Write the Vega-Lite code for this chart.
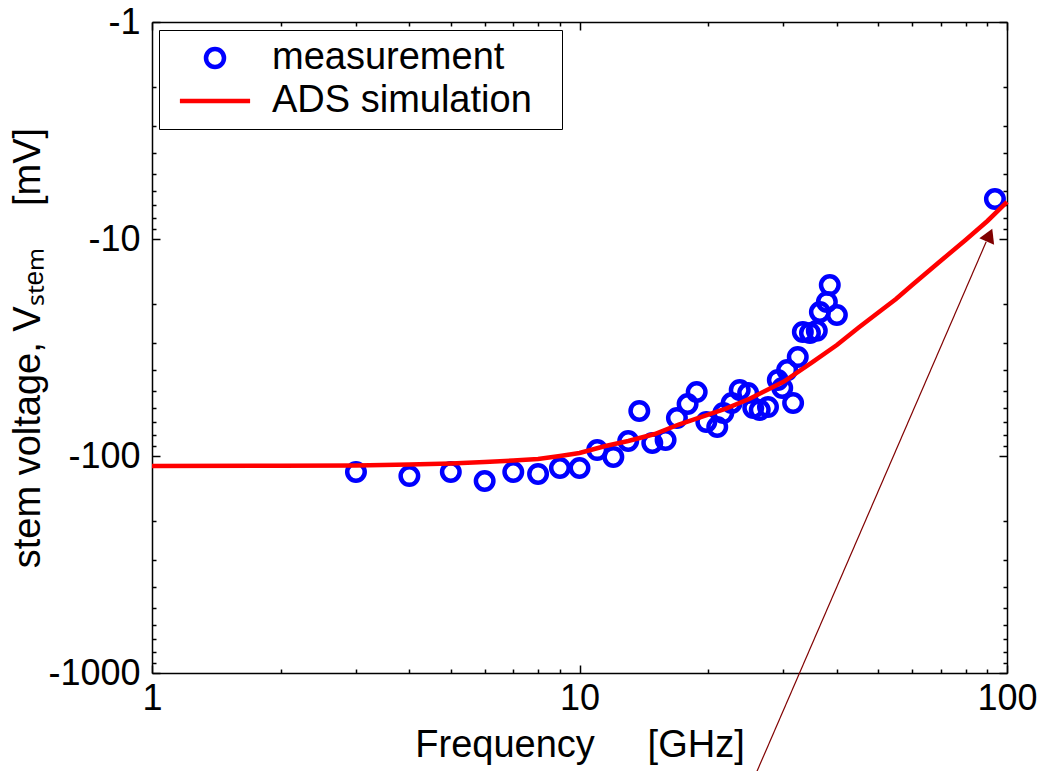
{
  "$schema": "https://vega.github.io/schema/vega-lite/v6.json",
  "width": 855,
  "height": 651,
  "autosize": {"type": "none"},
  "padding": {"left": 152, "top": 22, "right": 34, "bottom": 98},
  "background": "white",
  "config": {
    "font": "Liberation Sans",
    "view": {"stroke": null},
    "axis": {
      "domainColor": "black",
      "domainWidth": 1.5,
      "tickColor": "black",
      "tickWidth": 1.5,
      "labelColor": "black",
      "titleColor": "black",
      "labelFontSize": 36,
      "titleFontSize": 38,
      "titleFontWeight": "normal",
      "labelFont": "Liberation Sans",
      "titleFont": "Liberation Sans",
      "grid": false,
      "labelFlush": false,
      "labelOverlap": false
    }
  },
  "datasets": {
    "measurement": [
      {"f_GHz": 3, "V_mV": -118.5, "series": "measurement"},
      {"f_GHz": 4, "V_mV": -123.7, "series": "measurement"},
      {"f_GHz": 5, "V_mV": -118.5, "series": "measurement"},
      {"f_GHz": 6, "V_mV": -130.4, "series": "measurement"},
      {"f_GHz": 7, "V_mV": -118.5, "series": "measurement"},
      {"f_GHz": 8, "V_mV": -121, "series": "measurement"},
      {"f_GHz": 9, "V_mV": -113.6, "series": "measurement"},
      {"f_GHz": 10, "V_mV": -113.6, "series": "measurement"},
      {"f_GHz": 11, "V_mV": -93.9, "series": "measurement"},
      {"f_GHz": 12, "V_mV": -101, "series": "measurement"},
      {"f_GHz": 13, "V_mV": -85.3, "series": "measurement"},
      {"f_GHz": 13.8, "V_mV": -62, "series": "measurement"},
      {"f_GHz": 14.8, "V_mV": -87.1, "series": "measurement"},
      {"f_GHz": 15.9, "V_mV": -84.4, "series": "measurement"},
      {"f_GHz": 16.9, "V_mV": -66.8, "series": "measurement"},
      {"f_GHz": 17.9, "V_mV": -57.6, "series": "measurement"},
      {"f_GHz": 18.8, "V_mV": -50.7, "series": "measurement"},
      {"f_GHz": 19.8, "V_mV": -69.7, "series": "measurement"},
      {"f_GHz": 21.0, "V_mV": -73.5, "series": "measurement"},
      {"f_GHz": 21.7, "V_mV": -63.4, "series": "measurement"},
      {"f_GHz": 22.7, "V_mV": -57, "series": "measurement"},
      {"f_GHz": 23.7, "V_mV": -49.6, "series": "measurement"},
      {"f_GHz": 24.8, "V_mV": -51.3, "series": "measurement"},
      {"f_GHz": 25.5, "V_mV": -60.1, "series": "measurement"},
      {"f_GHz": 26.4, "V_mV": -61.4, "series": "measurement"},
      {"f_GHz": 27.6, "V_mV": -59.5, "series": "measurement"},
      {"f_GHz": 29.1, "V_mV": -44.6, "series": "measurement"},
      {"f_GHz": 29.8, "V_mV": -48.6, "series": "measurement"},
      {"f_GHz": 30.6, "V_mV": -40.2, "series": "measurement"},
      {"f_GHz": 31.6, "V_mV": -57, "series": "measurement"},
      {"f_GHz": 32.4, "V_mV": -35, "series": "measurement"},
      {"f_GHz": 33.3, "V_mV": -26.8, "series": "measurement"},
      {"f_GHz": 34.6, "V_mV": -27.1, "series": "measurement"},
      {"f_GHz": 35.9, "V_mV": -26.5, "series": "measurement"},
      {"f_GHz": 36.5, "V_mV": -21.7, "series": "measurement"},
      {"f_GHz": 37.9, "V_mV": -19.5, "series": "measurement"},
      {"f_GHz": 38.5, "V_mV": -16.3, "series": "measurement"},
      {"f_GHz": 40.0, "V_mV": -22.4, "series": "measurement"},
      {"f_GHz": 93.7, "V_mV": -6.54, "series": "measurement"}
    ],
    "simulation": [
      {"f_GHz": 1, "V_mV": -111.2, "series": "ADS simulation"},
      {"f_GHz": 2, "V_mV": -111.0, "series": "ADS simulation"},
      {"f_GHz": 3, "V_mV": -110.6, "series": "ADS simulation"},
      {"f_GHz": 4, "V_mV": -109.4, "series": "ADS simulation"},
      {"f_GHz": 5, "V_mV": -108.3, "series": "ADS simulation"},
      {"f_GHz": 6, "V_mV": -106.6, "series": "ADS simulation"},
      {"f_GHz": 7, "V_mV": -104.9, "series": "ADS simulation"},
      {"f_GHz": 8, "V_mV": -103.2, "series": "ADS simulation"},
      {"f_GHz": 9, "V_mV": -100.0, "series": "ADS simulation"},
      {"f_GHz": 10, "V_mV": -96.9, "series": "ADS simulation"},
      {"f_GHz": 11.5, "V_mV": -89.9, "series": "ADS simulation"},
      {"f_GHz": 13, "V_mV": -85.3, "series": "ADS simulation"},
      {"f_GHz": 15, "V_mV": -79.2, "series": "ADS simulation"},
      {"f_GHz": 17, "V_mV": -71.8, "series": "ADS simulation"},
      {"f_GHz": 20, "V_mV": -64.5, "series": "ADS simulation"},
      {"f_GHz": 22, "V_mV": -60.5, "series": "ADS simulation"},
      {"f_GHz": 25, "V_mV": -54.5, "series": "ADS simulation"},
      {"f_GHz": 30, "V_mV": -45.5, "series": "ADS simulation"},
      {"f_GHz": 35, "V_mV": -37.0, "series": "ADS simulation"},
      {"f_GHz": 40, "V_mV": -30.8, "series": "ADS simulation"},
      {"f_GHz": 45, "V_mV": -25.6, "series": "ADS simulation"},
      {"f_GHz": 50, "V_mV": -21.8, "series": "ADS simulation"},
      {"f_GHz": 55, "V_mV": -18.9, "series": "ADS simulation"},
      {"f_GHz": 60, "V_mV": -16.3, "series": "ADS simulation"},
      {"f_GHz": 70, "V_mV": -12.6, "series": "ADS simulation"},
      {"f_GHz": 80, "V_mV": -10.1, "series": "ADS simulation"},
      {"f_GHz": 90, "V_mV": -8.26, "series": "ADS simulation"},
      {"f_GHz": 100, "V_mV": -6.75, "series": "ADS simulation"}
    ],
    "arrow": [
      {"f_start": 24.9, "V_start": -3460, "f_end": 89.4, "V_end": -10.3}
    ],
    "arrowhead": [
      {"f_GHz": 91.0, "V_mV": -9.6}
    ]
  },
  "layer": [
    {
      "data": {"name": "measurement"},
      "mark": {"type": "point", "filled": false, "strokeWidth": 4.5, "size": 306, "opacity": 1},
      "encoding": {
        "x": {
          "field": "f_GHz", "type": "quantitative",
          "scale": {"type": "log", "domain": [1, 100], "nice": false},
          "axis": {
            "orient": "bottom",
            "values": [1, 2, 3, 4, 5, 6, 7, 8, 9, 10, 20, 30, 40, 50, 60, 70, 80, 90, 100],
            "labelExpr": "datum.value == 1 || datum.value == 10 || datum.value == 100 ? toString(datum.value) : ''",
            "tickSize": {"condition": {"test": "datum.value == 1 || datum.value == 10 || datum.value == 100", "value": -8}, "value": -4},
            "labelPadding": 16,
            "title": "Frequency\u00a0\u00a0\u00a0\u00a0\u00a0[GHz]",
            "titlePadding": 6
          }
        },
        "y": {
          "field": "V_mV", "type": "quantitative",
          "scale": {"type": "log", "domain": [-1000, -1], "nice": false},
          "axis": {
            "orient": "left",
            "values": [-1, -2, -3, -4, -5, -6, -7, -8, -9, -10, -20, -30, -40, -50, -60, -70, -80, -90, -100, -200, -300, -400, -500, -600, -700, -800, -900, -1000],
            "labelExpr": "datum.value == -1 || datum.value == -10 || datum.value == -100 || datum.value == -1000 ? '-' + toString(-datum.value) : ''",
            "tickSize": {"condition": {"test": "datum.value == -1 || datum.value == -10 || datum.value == -100 || datum.value == -1000", "value": -8}, "value": -4},
            "labelPadding": 20,
            "title": "stem voltage, Vₛₜₑₘ\u00a0\u00a0\u00a0\u00a0[mV]",
            "titlePadding": 0
          }
        },
        "color": {
          "field": "series", "type": "nominal",
          "scale": {"domain": ["measurement", "ADS simulation"], "range": ["#0000ff", "#ff0000"]},
          "legend": {
            "title": "x", "titleOrient": "right", "titleColor": "white", "titleFontSize": 8, "titlePadding": 16,
            "orient": "none", "legendX": 7, "legendY": 8,
            "padding": 9, "rowPadding": 5, "symbolOffset": 28, "labelOffset": 38,
            "labelFontSize": 38, "labelFont": "Liberation Sans", "labelColor": "black", "labelLimit": 0,
            "strokeColor": "black", "fillColor": "white", "symbolSize": 324, "symbolStrokeWidth": 4.5
          }
        },
        "shape": {
          "field": "series", "type": "nominal",
          "scale": {"domain": ["measurement", "ADS simulation"], "range": ["circle", "M-3.9,0H3.9"]},
          "legend": {
            "title": "x", "titleOrient": "right", "titleColor": "white", "titleFontSize": 8, "titlePadding": 16,
            "orient": "none", "legendX": 7, "legendY": 8,
            "padding": 9, "rowPadding": 5, "symbolOffset": 28, "labelOffset": 38,
            "labelFontSize": 38, "labelFont": "Liberation Sans", "labelColor": "black", "labelLimit": 0,
            "strokeColor": "black", "fillColor": "white", "symbolSize": 324, "symbolStrokeWidth": 4.5
          }
        }
      }
    },
    {
      "data": {"name": "simulation"},
      "mark": {"type": "line", "strokeWidth": 4.5},
      "encoding": {
        "x": {
          "field": "f_GHz", "type": "quantitative",
          "scale": {"type": "log", "domain": [1, 100], "nice": false},
          "axis": {
            "orient": "top",
            "values": [1, 2, 3, 4, 5, 6, 7, 8, 9, 10, 20, 30, 40, 50, 60, 70, 80, 90, 100],
            "labels": false,
            "tickSize": {"condition": {"test": "datum.value == 1 || datum.value == 10 || datum.value == 100", "value": -8}, "value": -4},
            "title": null
          }
        },
        "y": {
          "field": "V_mV", "type": "quantitative",
          "scale": {"type": "log", "domain": [-1000, -1], "nice": false},
          "axis": {
            "orient": "right",
            "values": [-1, -2, -3, -4, -5, -6, -7, -8, -9, -10, -20, -30, -40, -50, -60, -70, -80, -90, -100, -200, -300, -400, -500, -600, -700, -800, -900, -1000],
            "labels": false,
            "tickSize": {"condition": {"test": "datum.value == -1 || datum.value == -10 || datum.value == -100 || datum.value == -1000", "value": -8}, "value": -4},
            "title": null
          }
        },
        "color": {"field": "series", "type": "nominal", "legend": null}
      }
    },
    {
      "data": {"name": "arrow"},
      "mark": {"type": "rule", "color": "#800000", "strokeWidth": 1.2},
      "encoding": {
        "x": {"field": "f_start", "type": "quantitative", "scale": {"type": "log", "domain": [1, 100], "nice": false}, "axis": null},
        "y": {"field": "V_start", "type": "quantitative", "scale": {"type": "log", "domain": [-1000, -1], "nice": false}, "axis": null},
        "x2": {"field": "f_end"},
        "y2": {"field": "V_end"}
      }
    },
    {
      "data": {"name": "arrowhead"},
      "mark": {"type": "point", "shape": "triangle-up", "filled": true, "color": "#800000", "size": 260, "angle": 23.4, "opacity": 1},
      "encoding": {
        "x": {"field": "f_GHz", "type": "quantitative", "scale": {"type": "log", "domain": [1, 100], "nice": false}, "axis": null},
        "y": {"field": "V_mV", "type": "quantitative", "scale": {"type": "log", "domain": [-1000, -1], "nice": false}, "axis": null}
      }
    }
  ],
  "resolve": {"axis": {"x": "independent", "y": "independent"}}
}
